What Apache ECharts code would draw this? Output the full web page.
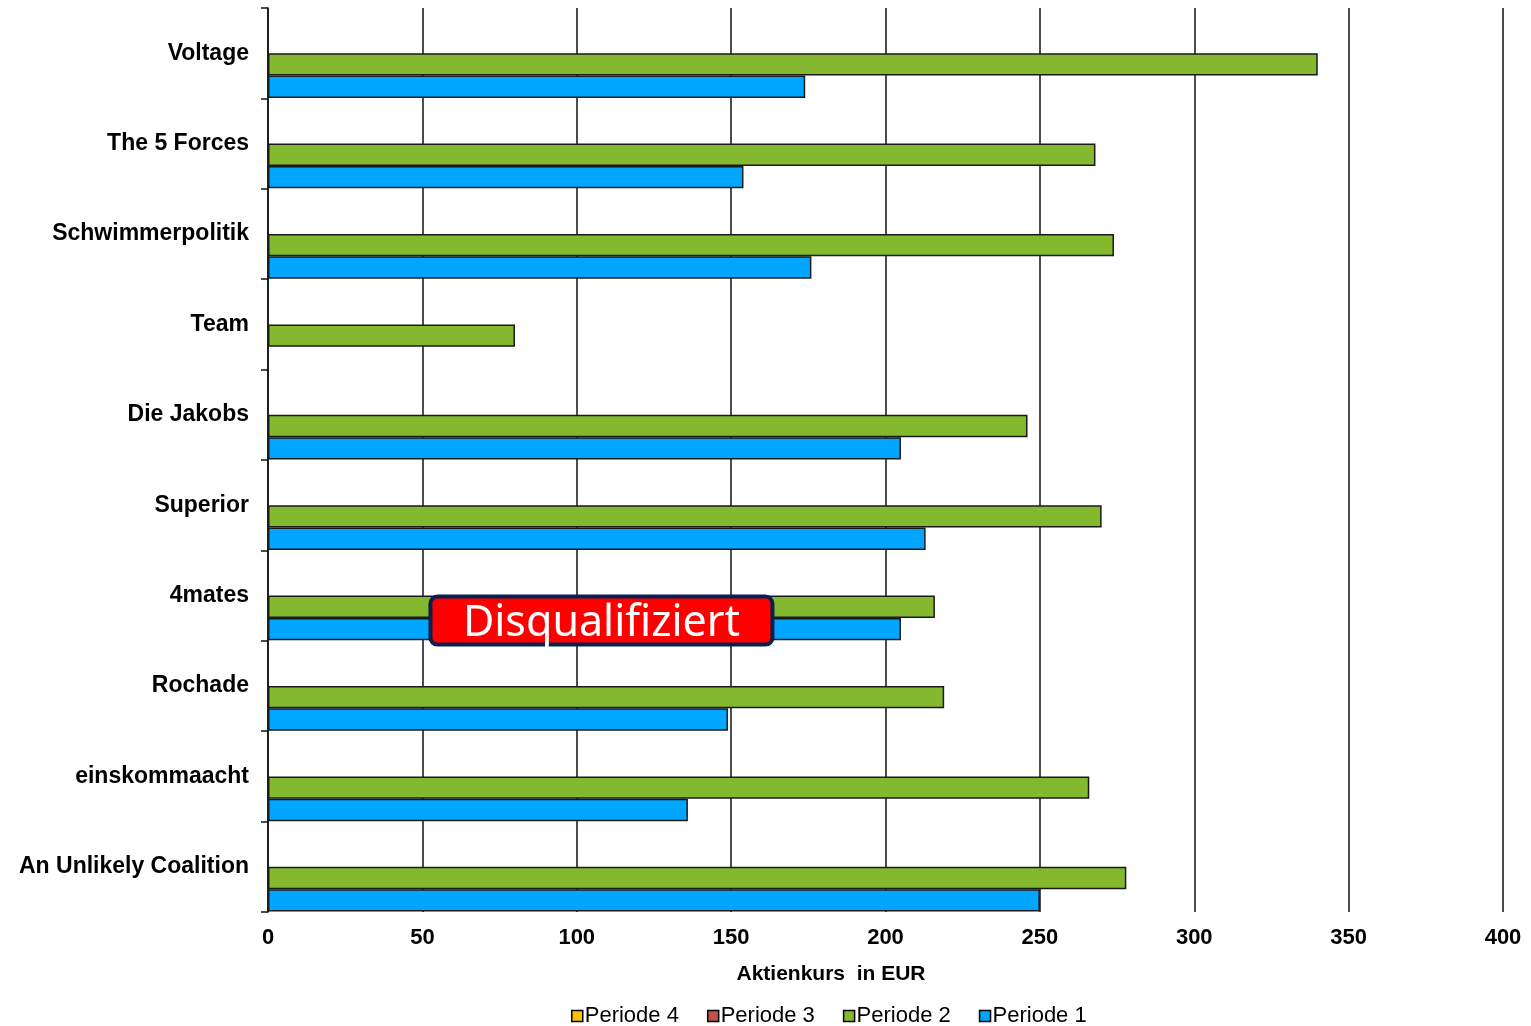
<!DOCTYPE html>
<html>
<head>
<meta charset="utf-8">
<script src="https://cdn.jsdelivr.net/npm/echarts@6/dist/echarts.min.js"></script>
<style>
html,body{margin:0;padding:0;background:#fff;}
#chart{width:1531px;height:1026px;}
</style>
</head>
<body>
<div id="chart"></div>
<script>
const categories = ['Voltage','The 5 Forces','Schwimmerpolitik','Team','Die Jakobs','Superior','4mates','Rochade','einskommaacht','An Unlikely Coalition'];
const periode4 = [null,null,null,null,null,null,null,null,null,null];
const periode3 = [null,null,null,null,null,null,null,null,null,null];
const periode2 = [340,268,274,80,246,270,216,219,266,278];
const periode1 = [174,154,176,null,205,213,205,149,136,250];
const xTicks = {min:0,max:400,interval:50};
const seriesNames = ['Periode 4','Periode 3','Periode 2','Periode 1'];
const colors = ['#FFC000','#C0504D','#84B82F','#00A6FF'];
const annotationText = 'Disqualifiziert';

const chart = echarts.init(document.getElementById('chart'), null, {renderer:'canvas'});
const font = 'Liberation Sans, Arial, sans-serif';
const dataSets = [periode4, periode3, periode2, periode1];
const series = seriesNames.map((n,i)=>({
  name:n, type:'bar', data:dataSets[i],
  barGap:'0%', barCategoryGap:'1%',
  itemStyle:{color:colors[i], borderColor:'#1a1a1a', borderWidth:1.5},
  emphasis:{disabled:true}
}));
chart.setOption({
  animation:false,
  color:colors,
  grid:{left:268,right:28,top:8,bottom:114,containLabel:false},
  xAxis:{type:'value',min:xTicks.min,max:xTicks.max,interval:xTicks.interval,
    axisLine:{show:false},axisTick:{show:false},
    splitLine:{show:true,lineStyle:{color:'#111',width:1.5}},
    axisLabel:{color:'#000',fontWeight:'bold',fontSize:22,fontFamily:font,margin:15}},
  yAxis:{type:'category',data:categories,inverse:true,
    axisLine:{show:true,lineStyle:{color:'#111',width:1.5}},
    axisTick:{show:true,length:7,lineStyle:{color:'#111',width:1.5}},
    axisLabel:{color:'#000',fontWeight:'bold',fontSize:23,fontFamily:font,margin:19,padding:[4,0,0,0]}},
  legend:{data:seriesNames,left:566,top:1000,itemWidth:11,itemHeight:11,itemGap:28,
    icon:'rect',
    itemStyle:{borderColor:'#000',borderWidth:1.5},
    textStyle:{color:'#000',fontSize:22,fontFamily:font,padding:[0,0,0,-3]}},
  series:series
});
function addGraphics(){
  const p = chart.convertToPixel({xAxisIndex:0,yAxisIndex:0},[108, categories[6]]);
  chart.setOption({graphic:[
    {type:'text',x:831,y:974,z:100,style:{text:'Aktienkurs  in EUR',fill:'#000',font:'bold 21px '+font,align:'center',verticalAlign:'middle'}},
    {type:'group',x:p[0],y:p[1]+25,z:100,children:[
      {type:'rect',z:100,shape:{x:-171,y:-24,width:342,height:48,r:7},style:{fill:'#FF0000',stroke:'#0B1F4F',lineWidth:4}},
      {type:'text',z:101,x:0,y:3,style:{text:annotationText,fill:'#fff',font:'43px "Noto Sans", sans-serif',align:'center',verticalAlign:'middle'}}
    ]}
  ]});
}
addGraphics();
</script>
</body>
</html>
